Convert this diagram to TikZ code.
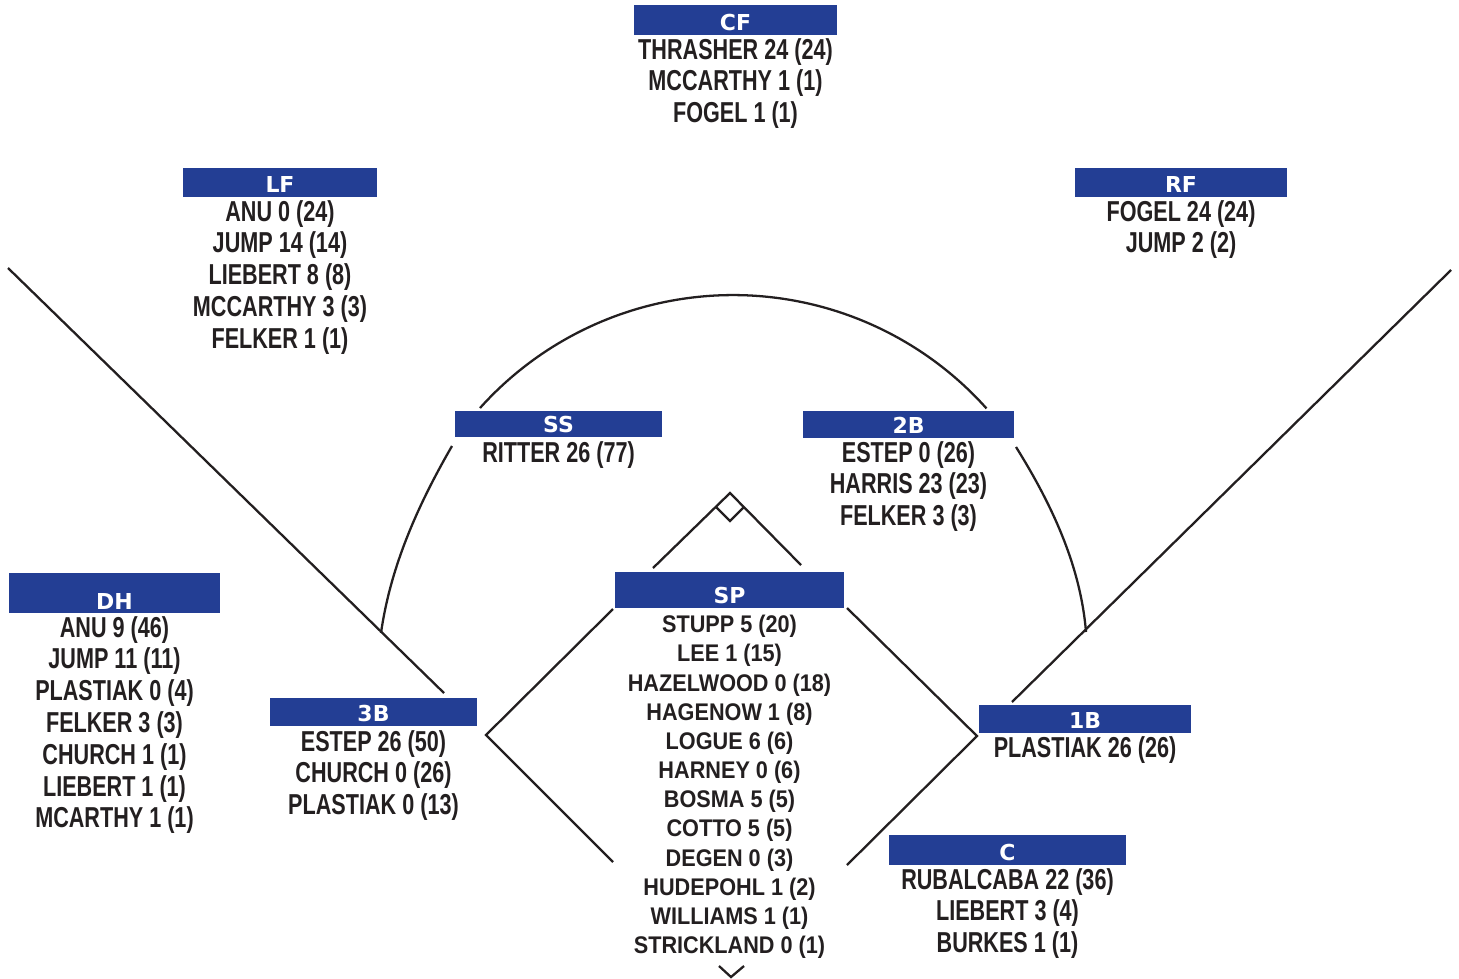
\documentclass[tikz,border=0pt]{standalone}
\usepackage{fontspec}
\usetikzlibrary{positioning}
\newfontfamily\rosterfont{Liberation Sans}[FakeStretch=0.75]
\newfontfamily\spfont{Liberation Sans}[FakeStretch=0.9]
\newfontfamily\tagfont{DejaVu Sans}
\definecolor{barblue}{RGB}{35,62,148}
\definecolor{ink}{RGB}{35,31,32}

\begin{document}
\begin{tikzpicture}[x=0.02cm, y=-0.02cm, line width=1.3pt, draw=ink,
  posbar/.style={fill=barblue, text=white, inner sep=0pt, text depth=0.1cm,
    font=\tagfont\bfseries\fontsize{12.5}{14}\selectfont},
  roster/.style={align=center, inner sep=0pt, text=ink, node distance=0.02cm,
    font=\rosterfont\bfseries\fontsize{16.4}{18.1}\selectfont}]
  \useasboundingbox (0,0) rectangle (1459,978);

  \draw (8,268) -- (444,693);
  \draw (1451,270) -- (1012,702);
  \draw (480,408) arc[start angle=-138.1, end angle=-41.8, radius=340];
  \draw (452,446) .. controls (415,510) and (390,570) .. (381,633);
  \draw (1016,447) .. controls (1056,511) and (1081,571) .. (1086,632);

  \draw (613,609) -- (486,735) -- (613,862);
  \draw (847,608) -- (977,736) -- (847,865);
  \draw (653,568) -- (730,493) -- (801,565);
  \draw (716,507) -- (730,521) -- (744,507);
  \draw (719,966) -- (731,977) -- (744,966);

  \node[posbar, minimum width=4.06cm, text height=0.50cm] (cf) at (735.5,20) {CF};
  \node[roster, below=of cf] (cflist) {THRASHER 24 (24)\\MCCARTHY 1 (1)\\FOGEL 1 (1)};

  \node[posbar, minimum width=3.88cm, text height=0.48cm] (lf) at (280,182.5) {LF};
  \node[roster, below=of lf] (lflist) {ANU 0 (24)\\JUMP 14 (14)\\LIEBERT 8 (8)\\MCCARTHY 3 (3)\\FELKER 1 (1)};

  \node[posbar, minimum width=4.24cm, text height=0.48cm] (rf) at (1181,182.5) {RF};
  \node[roster, below=of rf] (rflist) {FOGEL 24 (24)\\JUMP 2 (2)};

  \node[posbar, minimum width=4.14cm, text height=0.42cm] (ss) at (558.5,424) {SS};
  \node[roster, below=0.04cm of ss] (sslist) {RITTER 26 (77)};

  \node[posbar, minimum width=4.22cm, text height=0.44cm] (twob) at (908.5,424.5) {2B};
  \node[roster, below=of twob] (twoblist) {ESTEP 0 (26)\\HARRIS 23 (23)\\FELKER 3 (3)};

  \node[posbar, minimum width=4.58cm, text height=0.62cm] (sp) at (729.5,590) {SP};
  \node[roster, below=0.1cm of sp, font=\spfont\bfseries\fontsize{13.7}{16.6}\selectfont] (splist)
    {STUPP 5 (20)\\LEE 1 (15)\\HAZELWOOD 0 (18)\\HAGENOW 1 (8)\\LOGUE 6 (6)\\HARNEY 0 (6)\\
     BOSMA 5 (5)\\COTTO 5 (5)\\DEGEN 0 (3)\\HUDEPOHL 1 (2)\\WILLIAMS 1 (1)\\STRICKLAND 0 (1)};

  \node[posbar, minimum width=4.22cm, text height=0.72cm, text depth=0.08cm] (dh) at (114.5,593) {DH};
  \node[roster, below=of dh] (dhlist) {ANU 9 (46)\\JUMP 11 (11)\\PLASTIAK 0 (4)\\FELKER 3 (3)\\
    CHURCH 1 (1)\\LIEBERT 1 (1)\\MCARTHY 1 (1)};

  \node[posbar, minimum width=4.14cm, text height=0.46cm] (threeb) at (373.5,712) {3B};
  \node[roster, below=0.04cm of threeb] (threeblist) {ESTEP 26 (50)\\CHURCH 0 (26)\\PLASTIAK 0 (13)};

  \node[posbar, minimum width=4.24cm, text height=0.46cm] (oneb) at (1085,719) {1B};
  \node[roster, below=of oneb] (oneblist) {PLASTIAK 26 (26)};

  \node[posbar, minimum width=4.74cm, text height=0.50cm] (c) at (1007.5,850) {C};
  \node[roster, below=of c] (clist) {RUBALCABA 22 (36)\\LIEBERT 3 (4)\\BURKES 1 (1)};
\end{tikzpicture}
\end{document}
